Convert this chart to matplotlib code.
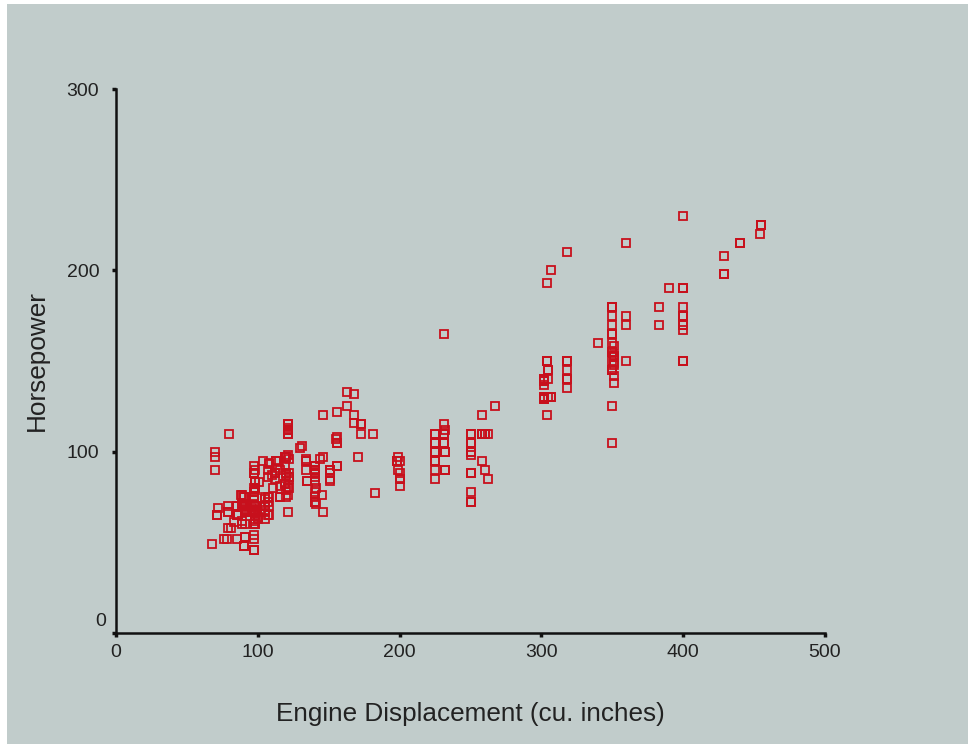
import matplotlib
matplotlib.use('Agg')
import matplotlib.pyplot as plt

# displacement (cu. inches) / horsepower pairs
displacement = [
    307, 350, 318, 304, 302, 429, 454, 440, 455, 390, 383, 340, 400, 455, 113, 198, 199, 200, 97, 97,
    110, 107, 104, 121, 199, 360, 307, 318, 304, 97, 140, 113, 232, 225, 250, 250, 232, 350, 400, 351,
    318, 383, 400, 400, 258, 140, 250, 250, 122, 116, 79, 88, 71, 72, 97, 91, 113, 97.5, 97, 140,
    122, 350, 400, 318, 351, 304, 429, 350, 350, 400, 70, 304, 307, 302, 318, 121, 121, 120, 96, 122,
    97, 120, 98, 97, 350, 304, 350, 302, 318, 429, 400, 351, 318, 440, 455, 360, 225, 250, 232, 250,
    198, 97, 400, 400, 360, 350, 232, 97, 140, 108, 70, 122, 155, 98, 350, 400, 68, 116, 114, 121,
    318, 121, 156, 350, 198, 232, 250, 79, 122, 71, 140, 250, 258, 225, 302, 350, 318, 302, 304, 98,
    79, 97, 76, 83, 90, 90, 116, 120, 108, 79, 225, 250, 250, 250, 400, 350, 318, 351, 231, 250,
    258, 225, 231, 262, 302, 97, 140, 232, 140, 134, 90, 119, 171, 90, 232, 115, 120, 121, 121, 91,
    107, 116, 140, 98, 101, 305, 318, 304, 351, 225, 250, 200, 232, 85, 98, 90, 91, 225, 250, 250,
    258, 97, 85, 97, 140, 130, 318, 120, 156, 168, 350, 350, 302, 318, 98, 111, 79, 122, 85, 305,
    260, 318, 302, 250, 231, 225, 250, 400, 350, 400, 351, 97, 151, 97, 140, 98, 98, 97, 97, 146,
    121, 80, 90, 98, 78, 85, 91, 260, 318, 302, 231, 200, 200, 140, 225, 232, 231, 200, 225, 258,
    305, 231, 302, 318, 98, 134, 119, 105, 134, 156, 151, 119, 131, 163, 121, 163, 89, 98, 231, 200,
    140, 232, 225, 305, 302, 351, 318, 350, 351, 267, 360, 89, 86, 98, 121, 183, 350, 141, 260, 105,
    105, 85, 91, 151, 173, 173, 151, 98, 89, 98, 86, 151, 140, 151, 225, 97, 134, 120, 119, 108,
    86, 156, 85, 90, 90, 121, 146, 91, 97, 89, 168, 70, 122, 107, 135, 151, 156, 173, 135, 81,
    100, 89, 105, 98, 98, 105, 100, 107, 108, 119, 120, 141, 145, 168, 146, 231, 350, 200, 225, 112,
    112, 112, 112, 135, 151, 140, 105, 91, 91, 105, 98, 120, 107, 108, 91, 91, 91, 181, 262, 156,
    232, 144, 135, 151, 140, 97, 135, 120, 119,
]
horsepower = [
    130, 165, 150, 150, 140, 198, 220, 215, 225, 190, 170, 160, 150, 225, 95, 95, 97, 85, 88, 46,
    87, 90, 95, 113, 90, 215, 200, 210, 193, 88, 90, 95, 100, 105, 100, 88, 100, 165, 175, 153,
    150, 180, 170, 175, 110, 72, 100, 88, 86, 90, 70, 76, 65, 69, 60, 70, 95, 80, 54, 90,
    86, 165, 175, 150, 153, 150, 208, 155, 160, 190, 97, 150, 130, 140, 150, 112, 76, 87, 69, 86,
    92, 97, 80, 88, 175, 150, 145, 137, 150, 198, 150, 158, 150, 215, 225, 175, 105, 100, 100, 88,
    95, 46, 150, 167, 170, 180, 100, 88, 72, 94, 90, 85, 107, 90, 145, 230, 49, 75, 91, 112,
    150, 110, 122, 180, 95, 100, 100, 67, 80, 65, 75, 100, 110, 105, 140, 150, 150, 140, 150, 83,
    67, 78, 52, 61, 75, 75, 75, 97, 93, 67, 95, 105, 72, 72, 170, 145, 150, 148, 110, 105,
    110, 95, 110, 110, 129, 75, 83, 100, 78, 96, 71, 97, 97, 70, 90, 95, 88, 98, 115, 53,
    86, 81, 92, 79, 83, 140, 150, 120, 152, 100, 105, 81, 90, 52, 60, 70, 53, 100, 78, 110,
    95, 71, 70, 75, 72, 102, 150, 88, 108, 120, 180, 145, 130, 150, 68, 80, 58, 96, 70, 145,
    110, 145, 130, 110, 105, 100, 98, 180, 170, 190, 149, 78, 88, 75, 89, 63, 83, 67, 78, 97,
    110, 110, 48, 66, 52, 70, 60, 110, 140, 139, 105, 95, 85, 88, 100, 90, 105, 85, 110, 120,
    145, 165, 139, 140, 68, 95, 97, 75, 95, 105, 85, 97, 103, 125, 115, 133, 71, 68, 115, 85,
    88, 90, 110, 130, 129, 138, 135, 155, 142, 125, 150, 71, 65, 80, 80, 77, 125, 71, 90, 70,
    70, 65, 69, 90, 115, 115, 90, 70, 76, 60, 65, 90, 88, 90, 90, 78, 90, 75, 92, 75,
    65, 105, 65, 48, 48, 67, 67, 67, 67, 62, 132, 100, 88, 72, 84, 84, 92, 110, 84, 58,
    64, 60, 67, 65, 62, 68, 63, 65, 65, 82, 88, 80, 76, 116, 120, 110, 105, 88, 85, 88,
    88, 88, 85, 84, 90, 92, 74, 68, 68, 63, 70, 88, 75, 70, 67, 67, 67, 110, 85, 92,
    112, 96, 84, 90, 86, 52, 84, 79, 82,
]

x_ticks = [0, 100, 200, 300, 400, 500]
y_ticks = [0, 100, 200, 300]

bg = '#c1cccb'
red = '#c8101c'

plt.rcParams['font.family'] = ['Liberation Sans', 'DejaVu Sans']

fig = plt.figure(figsize=(9.68, 7.44), dpi=100)
fig.patch.set_facecolor('white')
# gray panel, leaving a thin white strip on the left and top
fig.patches.append(plt.Rectangle((7 / 968, 0), 1, 1 - 4 / 744, transform=fig.transFigure,
                                 facecolor=bg, edgecolor='none', zorder=-1))

ax = fig.add_axes([116 / 968, 1 - 633 / 744, 709 / 968, 544 / 744])
ax.set_facecolor('none')

ax.plot(displacement, horsepower, linestyle='none', marker='s', markersize=6.3,
        markerfacecolor='none', markeredgecolor=red, markeredgewidth=1.3, clip_on=False)

ax.set_xlim(0, 500)
ax.set_ylim(0, 300)
ax.set_xticks(x_ticks)
ax.set_yticks(y_ticks)
ax.set_yticklabels([str(v) if v != 0 else '' for v in y_ticks])

for side in ['top', 'right']:
    ax.spines[side].set_visible(False)
for side in ['left', 'bottom']:
    ax.spines[side].set_linewidth(1.8)
    ax.spines[side].set_color('#111111')

ax.tick_params(axis='both', direction='out', length=3, width=2.5, color='#111111',
               labelsize=14, labelcolor='#222222')
ax.tick_params(axis='x', pad=5)
ax.tick_params(axis='y', pad=9)

# the "0" on the y axis sits a little above its tick
ax.annotate('0', xy=(0, 0), xycoords=('axes fraction', 'data'), xytext=(-10, 12),
            textcoords='offset pixels', ha='right', va='center', fontsize=14, color='#222222')

ax.set_xlabel('Engine Displacement (cu. inches)', fontsize=18.8, color='#222222')
ax.set_ylabel('Horsepower', fontsize=18.8, color='#222222')
ax.xaxis.set_label_coords(0.5, (633 - 714) / 544)
ax.yaxis.set_label_coords((37 - 116) / 709, 0.5)
ax.xaxis.label.set_va('center')
ax.yaxis.label.set_va('center')

fig.savefig('out.png', dpi=100, facecolor=fig.get_facecolor())
